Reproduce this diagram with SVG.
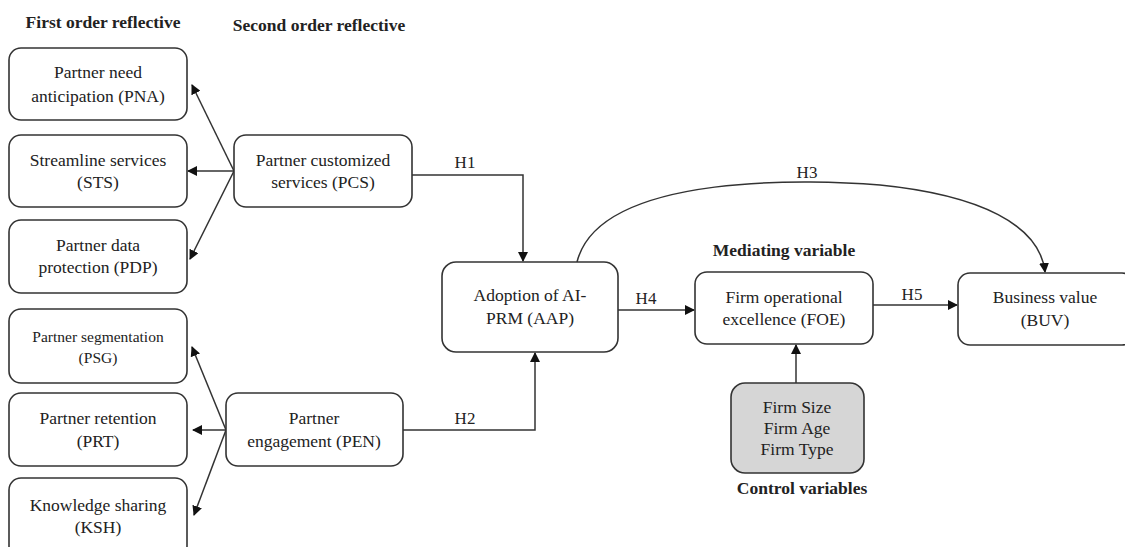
<svg xmlns="http://www.w3.org/2000/svg" width="1125" height="547" viewBox="0 0 1125 547">
<style>
.box{fill:#fff;stroke:#333;stroke-width:1.6}
.ctrl{fill:#d6d6d6;stroke:#333;stroke-width:1.6}
.t{font-family:"Liberation Serif","Times New Roman",serif;font-size:17.5px;fill:#222;text-anchor:middle}
.s{font-size:15.5px}
.h{font-family:"Liberation Serif","Times New Roman",serif;font-size:17.5px;font-weight:bold;fill:#222;text-anchor:middle}
.lbl{font-family:"Liberation Serif","Times New Roman",serif;font-size:17px;fill:#222;text-anchor:middle}
.c{fill:none;stroke:#333;stroke-width:1.5}
</style>
<defs>
<marker id="ah" markerWidth="10" markerHeight="10" refX="9" refY="5" orient="auto" markerUnits="userSpaceOnUse">
<path d="M0,0 L10,5 L0,10 Z" fill="#111"/>
</marker>
</defs>
<rect width="1125" height="547" fill="#fff"/>
<text class="h" x="103" y="28">First order reflective</text>
<text class="h" x="319" y="31">Second order reflective</text>
<text class="h" x="784" y="256">Mediating variable</text>
<text class="h" x="802" y="494">Control variables</text>

<g id="connectors">
<line class="c" x1="234" y1="171" x2="192" y2="85" marker-end="url(#ah)"/>
<line class="c" x1="234" y1="171" x2="188" y2="171" marker-end="url(#ah)"/>
<line class="c" x1="234" y1="171" x2="190" y2="259" marker-end="url(#ah)"/>
<line class="c" x1="226" y1="430" x2="192" y2="347" marker-end="url(#ah)"/>
<line class="c" x1="226" y1="430" x2="193" y2="430" marker-end="url(#ah)"/>
<line class="c" x1="226" y1="430" x2="194" y2="515" marker-end="url(#ah)"/>
<polyline class="c" points="412,175 523,175 523,261" marker-end="url(#ah)"/>
<polyline class="c" points="403,430 535,430 535,353" marker-end="url(#ah)"/>
<line class="c" x1="618" y1="310" x2="694" y2="310" marker-end="url(#ah)"/>
<line class="c" x1="873" y1="305" x2="957" y2="305" marker-end="url(#ah)"/>
<line class="c" x1="796" y1="383" x2="796" y2="345" marker-end="url(#ah)"/>
<path class="c" d="M577,262 C600,170 820,180 880,185 C980,195 1040,225 1045,272" marker-end="url(#ah)"/>
<text class="lbl" x="465" y="168">H1</text>
<text class="lbl" x="465" y="424">H2</text>
<text class="lbl" x="807" y="178">H3</text>
<text class="lbl" x="646" y="304">H4</text>
<text class="lbl" x="912" y="300">H5</text>
</g>

<g id="PNA"><rect class="box" x="9" y="48" width="178" height="72" rx="12"/>
<text class="t" x="98" y="78">Partner need</text><text class="t" x="98" y="102">anticipation (PNA)</text></g>
<g id="STS"><rect class="box" x="9" y="135" width="178" height="72" rx="12"/>
<text class="t" x="98" y="166">Streamline services</text><text class="t" x="98" y="188">(STS)</text></g>
<g id="PDP"><rect class="box" x="9" y="220" width="178" height="73" rx="12"/>
<text class="t" x="98" y="251">Partner data</text><text class="t" x="98" y="273">protection (PDP)</text></g>
<g id="PSG"><rect class="box" x="9" y="309" width="178" height="74" rx="12"/>
<text class="t s" x="98" y="342">Partner segmentation</text><text class="t s" x="98" y="363">(PSG)</text></g>
<g id="PRT"><rect class="box" x="9" y="393" width="178" height="73" rx="12"/>
<text class="t" x="98" y="424">Partner retention</text><text class="t" x="98" y="447">(PRT)</text></g>
<g id="KSH"><rect class="box" x="9" y="478" width="178" height="80" rx="12"/>
<text class="t" x="98" y="511">Knowledge sharing</text><text class="t" x="98" y="533">(KSH)</text></g>
<g id="PCS"><rect class="box" x="234" y="135" width="178" height="72" rx="12"/>
<text class="t" x="323" y="166">Partner customized</text><text class="t" x="323" y="188">services (PCS)</text></g>
<g id="PEN"><rect class="box" x="226" y="393" width="177" height="73" rx="12"/>
<text class="t" x="314" y="424">Partner</text><text class="t" x="314" y="447">engagement (PEN)</text></g>
<g id="AAP"><rect class="box" x="442" y="262" width="176" height="90" rx="14"/>
<text class="t" x="530" y="301">Adoption of AI-</text><text class="t" x="530" y="324">PRM (AAP)</text></g>
<g id="FOE"><rect class="box" x="695" y="272" width="178" height="72" rx="12"/>
<text class="t" x="784" y="303">Firm operational</text><text class="t" x="784" y="325">excellence (FOE)</text></g>
<g id="BUV"><rect class="box" x="958" y="273" width="176" height="72" rx="12"/>
<text class="t" x="1045" y="303">Business value</text><text class="t" x="1045" y="326">(BUV)</text></g>
<g id="CTRL"><rect class="ctrl" x="731" y="383" width="133" height="90" rx="14"/>
<text class="t" x="797" y="413">Firm Size</text><text class="t" x="797" y="434">Firm Age</text><text class="t" x="797" y="455">Firm Type</text></g>
</svg>
